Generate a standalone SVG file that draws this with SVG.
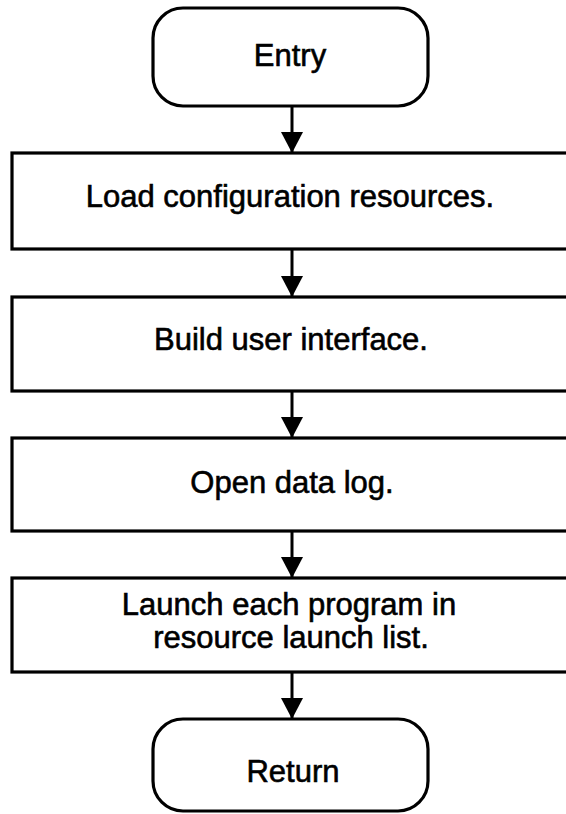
<svg xmlns="http://www.w3.org/2000/svg" width="566" height="814" viewBox="0 0 566 814">
  <defs>
    <style>
      .terminal { fill: #ffffff; stroke: #000000; stroke-width: 3.2; }
      .step { fill: #ffffff; stroke: #000000; stroke-width: 3.2; }
      .label { font-family: "Liberation Sans", Arial, Helvetica, sans-serif; font-size: 31px; fill: #000000; stroke: #000000; stroke-width: 0.6; text-anchor: middle; }
      .flow { fill: none; stroke: #000000; stroke-width: 3; }
    </style>
    <marker id="arrowhead" markerUnits="userSpaceOnUse" viewBox="0 0 21 22" refX="21" refY="11" markerWidth="21" markerHeight="22" orient="auto">
      <path d="M0,0 L21,11 L0,22 Z" fill="#000000"/>
    </marker>
  </defs>

  <rect width="566" height="814" fill="#ffffff"/>

  <!-- connectors -->
  <g id="connectors">
    <line class="flow" x1="292" y1="106" x2="292" y2="153" marker-end="url(#arrowhead)"/>
    <line class="flow" x1="292" y1="249" x2="292" y2="297" marker-end="url(#arrowhead)"/>
    <line class="flow" x1="292" y1="391" x2="292" y2="438" marker-end="url(#arrowhead)"/>
    <line class="flow" x1="292" y1="531" x2="292" y2="578" marker-end="url(#arrowhead)"/>
    <line class="flow" x1="292" y1="672" x2="292" y2="719" marker-end="url(#arrowhead)"/>
  </g>

  <!-- start terminal -->
  <g id="entry">
    <rect class="terminal" x="153" y="8" width="275" height="98" rx="30" ry="30"/>
    <text class="label" x="290" y="66">Entry</text>
  </g>

  <!-- process steps -->
  <g id="load-config">
    <rect class="step" x="12" y="153" width="580" height="96"/>
    <text class="label" x="290" y="207">Load configuration resources.</text>
  </g>

  <g id="build-ui">
    <rect class="step" x="12" y="297" width="580" height="94"/>
    <text class="label" x="291" y="350">Build user interface.</text>
  </g>

  <g id="open-log">
    <rect class="step" x="12" y="438" width="580" height="93"/>
    <text class="label" x="292" y="493">Open data log.</text>
  </g>

  <g id="launch-programs">
    <rect class="step" x="12" y="578" width="580" height="94"/>
    <text class="label" x="289" y="615">Launch each program in</text>
    <text class="label" x="291" y="648">resource launch list.</text>
  </g>

  <!-- end terminal -->
  <g id="return">
    <rect class="terminal" x="153" y="719" width="275" height="92" rx="30" ry="30"/>
    <text class="label" x="293" y="782">Return</text>
  </g>
</svg>
